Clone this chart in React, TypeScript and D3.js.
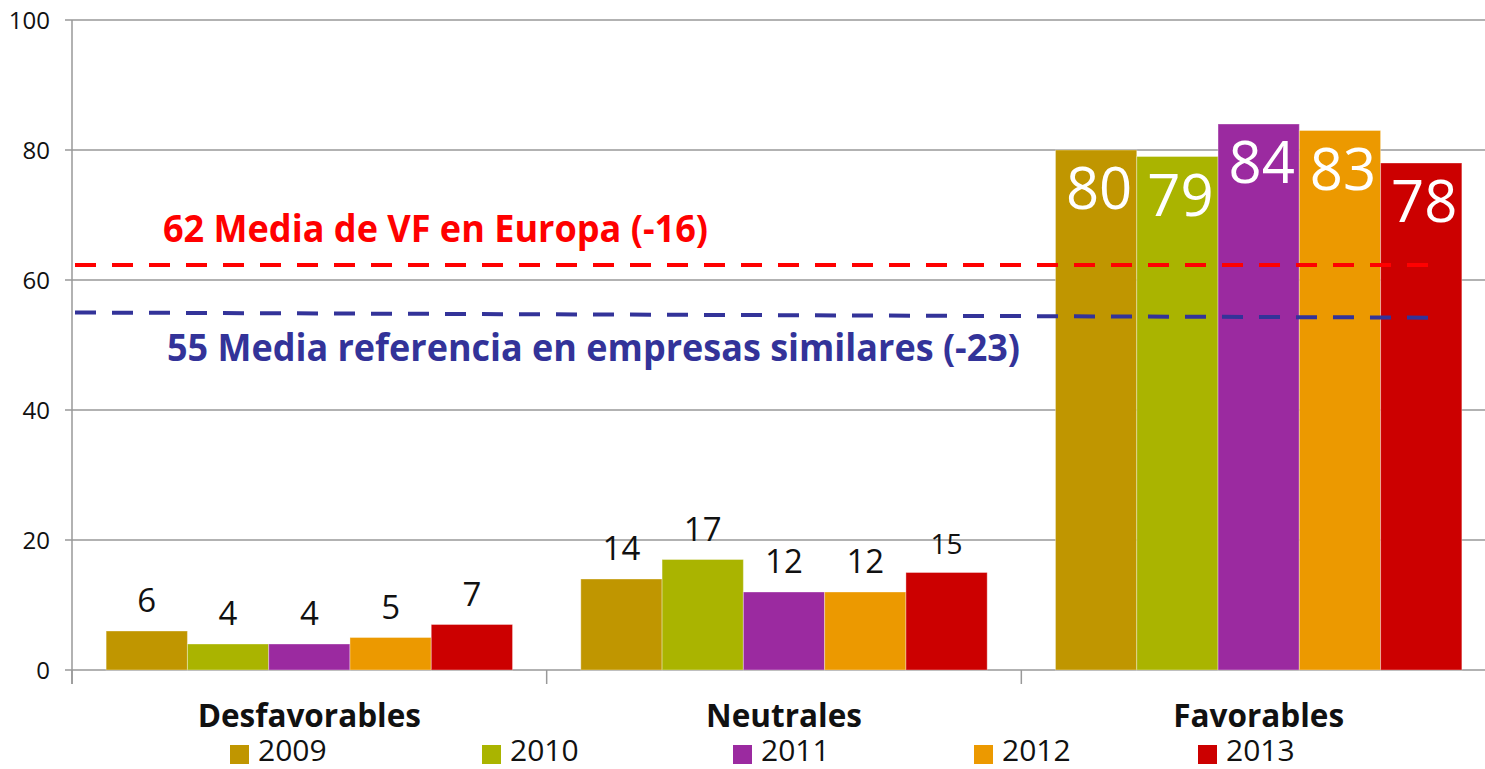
import { useEffect, useRef } from "react";
import * as d3 from "d3";

const categories = ["Desfavorables", "Neutrales", "Favorables"];
const years = ["2009", "2010", "2011", "2012", "2013"];
const values2009 = [6, 14, 80];
const values2010 = [4, 17, 79];
const values2011 = [4, 12, 84];
const values2012 = [5, 12, 83];
const values2013 = [7, 15, 78];
const yTicks = [0, 20, 40, 60, 80, 100];

const refLabels = ["62 Media de VF en Europa (-16)", "55 Media referencia en empresas similares (-23)"];
const refStart = [62.3, 55];
const refEnd = [62.3, 54.2];

const colors = ["#C09600", "#AAB400", "#9B2AA0", "#EC9900", "#CC0000"];
const refColors = ["#FF0000", "#333399"];

const W = 1485;
const H = 769;
const FONT = "'Open Sans', 'DejaVu Sans', sans-serif";

function App() {
  const ref = useRef<SVGSVGElement>(null);

  useEffect(() => {
    const svg = d3.select(ref.current);
    svg.selectAll("*").remove();

    const series = [values2009, values2010, values2011, values2012, values2013];
    const rows = categories.map((c, i) => ({
      cat: c,
      vals: years.map((yr, j) => ({ year: yr, idx: j, v: series[j][i] })),
    }));

    const x0 = d3.scaleBand().domain(categories).range([72, 1496]).padding(0);
    const x1 = d3.scaleBand().domain(years).range([0, x0.bandwidth()]).paddingInner(0).paddingOuter(0.42);
    const y = d3.scaleLinear().domain([0, 100]).range([670, 20]);

    // grid
    svg.append("g")
      .selectAll("line")
      .data(yTicks)
      .enter()
      .append("line")
      .attr("x1", 65)
      .attr("x2", 1496)
      .attr("y1", (d) => y(d))
      .attr("y2", (d) => y(d))
      .attr("stroke", "#999")
      .attr("stroke-width", 1.5);

    svg.append("line")
      .attr("x1", 72).attr("x2", 72)
      .attr("y1", y(100)).attr("y2", 684)
      .attr("stroke", "#999").attr("stroke-width", 1.5);

    const catTicks = categories.map((c) => x0(c) as number);
    svg.append("g")
      .selectAll("line")
      .data(catTicks)
      .enter()
      .append("line")
      .attr("x1", (d) => d).attr("x2", (d) => d)
      .attr("y1", 670).attr("y2", 684)
      .attr("stroke", "#999").attr("stroke-width", 1.5);

    svg.append("g")
      .selectAll("text")
      .data(yTicks)
      .enter()
      .append("text")
      .attr("x", 50)
      .attr("y", (d) => y(d) + 9)
      .attr("text-anchor", "end")
      .attr("font-family", FONT)
      .attr("font-size", 24)
      .attr("fill", "#111")
      .text((d) => d);

    // bars
    const groups = svg.append("g")
      .selectAll("g")
      .data(rows)
      .enter()
      .append("g")
      .attr("transform", (d) => `translate(${x0(d.cat)},0)`);

    groups.selectAll("rect")
      .data((d) => d.vals)
      .enter()
      .append("rect")
      .attr("x", (d) => x1(d.year) as number)
      .attr("y", (d) => y(d.v))
      .attr("width", x1.bandwidth())
      .attr("height", (d) => y(0) - y(d.v))
      .attr("fill", (d) => colors[d.idx])
      .attr("stroke", "rgba(255,255,255,0.35)")
      .attr("stroke-width", 1);

    groups.each(function (row) {
      const inside = row.cat === "Favorables";
      d3.select(this)
        .selectAll("text")
        .data(row.vals)
        .enter()
        .append("text")
        .attr("x", (d) => (x1(d.year) as number) + x1.bandwidth() / 2 + (inside ? 3 : 0))
        .attr("y", (d) => (inside ? y(d.v) + 59 : y(d.v) - 19))
        .attr("text-anchor", "middle")
        .attr("font-family", FONT)
        .attr("font-size", (d) => (inside ? 58 : row.cat === "Neutrales" && d.year === "2013" ? 28 : 33))
        .attr("fill", inside ? "#fff" : "#111")
        .text((d) => d.v);
    });

    // reference lines
    refLabels.forEach((lab, i) => {
      svg.append("line")
        .attr("x1", 75).attr("x2", 1440)
        .attr("y1", y(refStart[i])).attr("y2", y(refEnd[i]))
        .attr("stroke", refColors[i])
        .attr("stroke-width", 4)
        .attr("stroke-dasharray", "21 16");
    });

    svg.append("text")
      .attr("x", 163).attr("y", 242)
      .attr("font-family", FONT).attr("font-weight", "bold")
      .attr("font-size", 37)
      .attr("textLength", 545).attr("lengthAdjust", "spacingAndGlyphs")
      .attr("fill", refColors[0])
      .text(refLabels[0]);

    svg.append("text")
      .attr("x", 167).attr("y", 361)
      .attr("font-family", FONT).attr("font-weight", "bold")
      .attr("font-size", 37)
      .attr("textLength", 853).attr("lengthAdjust", "spacingAndGlyphs")
      .attr("fill", refColors[1])
      .text(refLabels[1]);

    // category labels
    svg.append("g")
      .selectAll("text")
      .data(categories)
      .enter()
      .append("text")
      .attr("x", (d) => (x0(d) as number) + x0.bandwidth() / 2)
      .attr("y", 727)
      .attr("text-anchor", "middle")
      .attr("font-family", FONT)
      .attr("font-weight", "bold")
      .attr("font-size", 31.5)
      .attr("fill", "#111")
      .text((d) => d);

    // legend
    const legendX = [230, 482, 733, 974, 1198];
    const leg = svg.append("g")
      .selectAll("g")
      .data(years)
      .enter()
      .append("g")
      .attr("transform", (d, i) => `translate(${legendX[i]},745)`);
    leg.append("rect")
      .attr("width", 19).attr("height", 19)
      .attr("fill", (d, i) => colors[i]);
    leg.append("text")
      .attr("x", 28).attr("y", 16)
      .attr("font-family", FONT)
      .attr("font-size", 30)
      .attr("fill", "#111")
      .text((d) => d);
  }, []);

  return (
    <svg
      ref={ref}
      width={W}
      height={H}
      style={{ position: "absolute", left: 0, top: 0, background: "#fff" }}
    />
  );
}

export default App;
